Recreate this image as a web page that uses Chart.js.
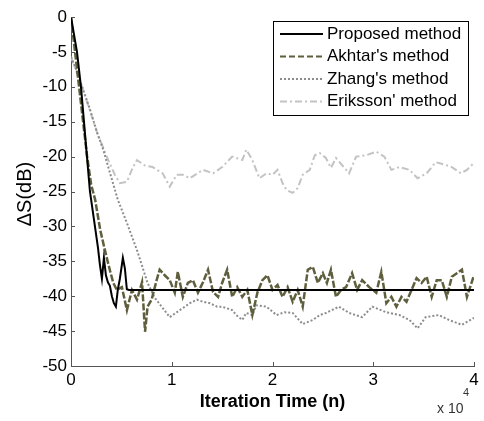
<!DOCTYPE html>
<html>
<head>
<meta charset="utf-8">
<script src="https://cdn.jsdelivr.net/npm/chart.js@4.4.1/dist/chart.umd.min.js"></script>
<style>
body { margin: 0; background: #fff; }
#wrap { width: 484px; height: 421px; }
</style>
</head>
<body>
<div id="wrap"><canvas id="myChart" width="484" height="421"></canvas></div>
<script>
// legend names
var seriesNames = ["Proposed method", "Akhtar's method", "Zhang's method", "Eriksson' method"];
// axis ticks (x in iterations, shown as x 10^4)
var xTicks = [0, 10000, 20000, 30000, 40000];
var yTicks = [0, -5, -10, -15, -20, -25, -30, -35, -40, -45, -50];

// Proposed method
var propN  = [0, 594, 990, 1287, 1584, 1881, 2376, 2673, 2871, 3069, 3267, 3465, 3663, 3861, 4059, 4257, 4455, 4653, 4851, 5049, 5148, 5346, 5544, 5742, 40000];
var propDB = [0, -5, -10, -15, -20, -25, -30, -33, -35.5, -37.5, -34.5, -37, -38, -38.5, -40, -41, -41.5, -39, -37.5, -35.5, -34.5, -36, -39, -39.1, -39.1];

// Akhtar's method
var akhN  = [0, 400, 800, 1200, 1600, 2000, 2400, 2900, 3300, 3600, 3900, 4200, 4550, 5050, 5550, 6050, 6550, 7050, 7350, 7600, 8000, 8500, 8800, 9300,
  9800, 10300, 10600, 11100, 11600, 12100, 12600, 13100, 13600, 14100, 14600, 15000, 15500, 16000, 16500, 17000, 17500, 18000, 18500, 19000, 19500,
  20000, 20500, 21000, 21500, 22000, 22500, 23000, 23500, 24000, 24500, 25000, 25400, 25800, 26300, 26800, 27300, 27900, 28400, 28900, 29600,
  30300, 30800, 31300, 31800, 32300, 32800, 33300, 33800, 34300, 34800, 35300, 35800, 36300, 36800, 37300, 37800, 38300, 38800, 39300, 40000];
var akhDB = [0, -5, -10, -15, -20, -24, -26.2, -30.5, -33, -34.8, -36.5, -38.1, -39.1, -38.7, -42, -39.1, -40.5, -38, -45.1, -41.5, -40.5, -37.7, -36.2, -37,
  -37.7, -39.5, -36.5, -40.1, -38.1, -37.7, -39.5, -38, -36.2, -39.4, -40.1, -38.1, -36.2, -40.1, -38.7, -40.1, -39.1, -42.7, -39.5, -37.7, -37,
  -39.1, -38.4, -40.1, -38.7, -40.8, -39.1, -41.5, -36.2, -35.8, -38.1, -36.7, -38.1, -36.2, -40.1, -39.1, -38.7, -36.7, -39.1, -37.7, -38.7,
  -39.5, -36.5, -41, -40.1, -41.5, -40.1, -40.8, -39.1, -37.4, -38.1, -37.2, -40.1, -37.7, -37.7, -40.1, -37.2, -36.7, -36.2, -40.1, -37];

// Zhang's method
var zhN  = [0, 500, 1100, 1900, 2600, 3200, 3900, 4650, 5550, 6550, 7600, 8300, 9000, 9800, 10800, 11800, 12500, 13100, 13800, 14500, 15000,
  16000, 16400, 17000, 17400, 18000, 18400, 19400, 20400, 21200, 22000, 23000, 24000, 24700, 25300, 26600, 27600, 28900, 29900, 31300,
  32600, 33600, 34400, 35200, 36500, 37500, 38800, 40000];
var zhDB = [-5.7, -7.5, -10, -13.3, -16.6, -19, -22.5, -26.2, -29.5, -33.4, -38.1, -40.2, -41.5, -43, -42, -41, -40.5, -40.8, -41, -41.5, -41.5,
  -42, -42.7, -43.4, -42.4, -42.7, -41.3, -41.5, -42.7, -42.3, -42.4, -44, -43.4, -42.7, -42.4, -41.5, -42.4, -43, -41.5, -42.3,
  -42.7, -43.4, -44.6, -43, -42.7, -43.4, -44.1, -43.1];

// Eriksson' method
var erN  = [0, 1100, 2600, 3700, 4350, 4850, 5550, 6150, 6550, 7350, 8100, 9100, 9800, 10500, 11100, 11800, 13100, 14100, 15000, 16000, 17000,
  17400, 18000, 18700, 19400, 20000, 20500, 21000, 21400, 22000, 22500, 23000, 23700, 24200, 24700, 25300, 25800, 26300, 26900, 27600,
  28300, 29300, 30300, 31100, 31800, 32600, 33600, 34400, 35300, 36200, 37200, 37800, 38700, 39300, 40000];
var erDB = [-5.7, -10, -16.6, -20.5, -22.6, -23.8, -23.6, -21.5, -20.5, -21.3, -21.5, -22.4, -24.3, -22.6, -22.6, -23.1, -21.9, -22.4, -21.5, -20, -20.5,
  -19, -20.5, -23.1, -22.4, -22.6, -21.9, -23.8, -24.8, -25.2, -24.5, -22.6, -21.9, -19.8, -19.5, -20.2, -21.6, -20.2, -21.2, -22.4,
  -20, -19.8, -19.3, -20, -21.9, -21.5, -21.9, -23.1, -22.4, -20.8, -21.2, -21.5, -22.4, -21.9, -20.9];

function pts(xs, ys) {
  return xs.map(function (x, i) { return { x: x, y: ys[i] }; });
}

var FONT = "'Liberation Sans', Arial, sans-serif";
Chart.defaults.font.family = FONT;
Chart.defaults.color = '#000';

// legend, inward ticks and axis titles, drawn the MATLAB way
var matlabDecor = {
  id: 'matlabDecor',
  afterDraw: function (chart) {
    var ctx = chart.ctx;
    var xs = chart.scales.x, ys = chart.scales.y;
    var area = chart.chartArea;
    ctx.save();
    // inward tick marks
    ctx.strokeStyle = '#555';
    ctx.lineWidth = 1;
    ctx.setLineDash([]);
    xTicks.forEach(function (v) {
      var px = Math.round(xs.getPixelForValue(v)) + 0.5;
      ctx.beginPath(); ctx.moveTo(px, area.bottom); ctx.lineTo(px, area.bottom - 4); ctx.stroke();
    });
    yTicks.forEach(function (v) {
      var py = Math.round(ys.getPixelForValue(v)) + 0.5;
      ctx.beginPath(); ctx.moveTo(area.left, py); ctx.lineTo(area.left + 4, py); ctx.stroke();
    });

    // axis titles
    ctx.fillStyle = '#000';
    ctx.textAlign = 'center';
    ctx.textBaseline = 'middle';
    ctx.font = 'bold 18px ' + FONT;
    ctx.fillText('Iteration Time (n)', (area.left + area.right) / 2, 402);
    ctx.save();
    ctx.translate(25, 194);
    ctx.rotate(-Math.PI / 2);
    ctx.font = '20px ' + FONT;
    ctx.fillText('\u0394S(dB)', 0, 0);
    ctx.restore();
    // exponent
    ctx.textAlign = 'left';
    ctx.font = '14px ' + FONT;
    ctx.fillStyle = '#333';
    ctx.fillText('x 10', 437, 409);
    ctx.font = '11px ' + FONT;
    ctx.fillText('4', 463, 393);

    // legend box
    var bx = 273, by = 21, bw = 195, bh = 94;
    ctx.fillStyle = '#fff';
    ctx.fillRect(bx, by, bw, bh);
    ctx.strokeStyle = '#000';
    ctx.lineWidth = 1;
    ctx.strokeRect(bx + 0.5, by + 0.5, bw, bh);
    ctx.font = '17px ' + FONT;
    ctx.textBaseline = 'middle';
    chart.data.datasets.forEach(function (ds, i) {
      var ry = 34 + i * 22.5;
      ctx.strokeStyle = ds.borderColor;
      ctx.lineWidth = 2;
      ctx.setLineDash(ds.legendDash || []);
      ctx.beginPath(); ctx.moveTo(280, ry); ctx.lineTo(323, ry); ctx.stroke();
      ctx.setLineDash([]);
      ctx.fillStyle = '#000';
      ctx.fillText(ds.label, 327, ry);
    });
    ctx.restore();
  }
};

var chartData = {
  type: 'line',
  data: {
    datasets: [
      { label: seriesNames[0], data: pts(propN, propDB), borderColor: '#000000', borderWidth: 2, order: 0 },
      { label: seriesNames[1], data: pts(akhN, akhDB), borderColor: '#5f5f3d', borderWidth: 2.5, borderDash: [7, 2], legendDash: [6, 3], order: 1 },
      { label: seriesNames[2], data: pts(zhN, zhDB), borderColor: '#8c8c8c', borderWidth: 2, borderDash: [2, 2], legendDash: [2, 2], order: 2 },
      { label: seriesNames[3], data: pts(erN, erDB), borderColor: '#c3c3c3', borderWidth: 2, borderDash: [7, 3, 2, 3], legendDash: [7, 3, 2, 3], order: 3 }
    ]
  },
  options: {
    responsive: false,
    animation: false,
    layout: { padding: { top: 17, right: 10, left: 0, bottom: 0 } },
    elements: { point: { radius: 0 }, line: { tension: 0 } },
    plugins: { legend: { display: false }, tooltip: { enabled: false } },
    scales: {
      x: {
        type: 'linear', min: 0, max: 40000,
        afterFit: function (s) { s.height = 55; },
        afterBuildTicks: function (s) { s.ticks = xTicks.map(function (v) { return { value: v }; }); },
        ticks: { font: { size: 17 }, padding: 4, maxRotation: 0, callback: function (v) { return v / 10000; } },
        grid: { drawOnChartArea: false, drawTicks: false },
        border: { display: true, color: '#555', width: 1 }
      },
      y: {
        type: 'linear', min: -50, max: 0,
        afterFit: function (s) { s.width = 71; },
        afterBuildTicks: function (s) { s.ticks = yTicks.map(function (v) { return { value: v }; }); },
        ticks: { font: { size: 17 }, padding: 4 },
        grid: { drawOnChartArea: false, drawTicks: false },
        border: { display: true, color: '#555', width: 1 }
      }
    }
  },
  plugins: [matlabDecor]
};

var chartArea = document.getElementById('myChart').getContext('2d');
var myChart = new Chart(chartArea, chartData);
</script>
</body>
</html>
